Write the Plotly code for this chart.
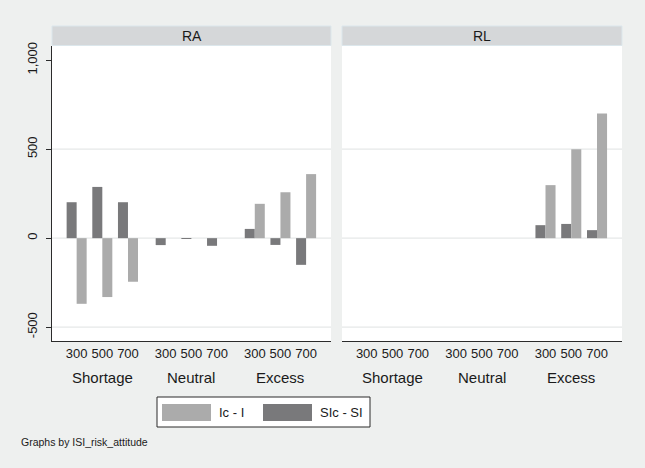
import plotly.graph_objects as go

# ---------------- data ----------------
panels = ["RA", "RL"]
conditions = ["Shortage", "Neutral", "Excess"]
quantities = ["300", "500", "700"]
series_names = ["Ic - I", "SIc - SI"]

# values ordered: Shortage 300/500/700, Neutral 300/500/700, Excess 300/500/700
ra_ic_i = [-369, -331, -245, 0, 0, 0, 193, 258, 360]
ra_sic_si = [202, 288, 202, -39, -4, -43, 52, -38, -150]
rl_ic_i = [None, None, None, None, None, None, 298, 500, 700]
rl_sic_si = [None, None, None, None, None, None, 73, 80, 45]

y_ticks = [-500, 0, 500, 1000]
y_ticklabels = ["-500", "0", "500", "1,000"]

# ---------------- style ----------------
W, H = 645, 468
BG = "#EEF0EF"
STRIP = "#D5D7D9"
STRIP_LINE = "#DCE7EC"
LIGHT = "#ABABAB"
DARK = "#79797B"
GRID = "#E6E8E8"
AXIS = "#2b2b2b"
TXT = "#1a1a1a"
FONT = "Arial, Liberation Sans, sans-serif"
GROUP_STEP = 3.47


def px(x):
    return x / W


def py(y):
    return 1 - y / H


xpos = [g * GROUP_STEP + s for g in range(len(conditions)) for s in range(len(quantities))]
group_centers = [g * GROUP_STEP + 1 for g in range(len(conditions))]
tick_text = quantities * len(conditions)

panel_data = {
    "RA": (ra_ic_i, ra_sic_si),
    "RL": (rl_ic_i, rl_sic_si),
}

fig = go.Figure()
for i, p in enumerate(panels):
    suf = "" if i == 0 else str(i + 1)
    ic, sic = panel_data[p]
    fig.add_trace(go.Bar(x=xpos, y=sic, name=series_names[1], marker=dict(color=DARK, line=dict(width=0)),
                         xaxis="x" + suf, yaxis="y" + suf, showlegend=False))
    fig.add_trace(go.Bar(x=xpos, y=ic, name=series_names[0], marker=dict(color=LIGHT, line=dict(width=0)),
                         xaxis="x" + suf, yaxis="y" + suf, showlegend=False))

x_domains = [[px(52), px(331)], [px(342), px(622)]]
y_domain = [py(341), py(46)]
x_range = [-0.96, 2 * GROUP_STEP + 2 + 0.97]
y_range = [-578, 1080]

xaxis_common = dict(range=x_range, tickvals=xpos, ticktext=tick_text, ticks="", showgrid=False,
                    zeroline=False, showline=True, linecolor=AXIS, linewidth=1,
                    tickfont=dict(size=13, color=TXT, family=FONT), automargin=False, fixedrange=True)

layout = dict(
    width=W, height=H,
    margin=dict(l=0, r=0, t=0, b=0),
    paper_bgcolor=BG, plot_bgcolor="white",
    barmode="group", bargap=0.22, bargroupgap=0,
    font=dict(family=FONT, color=TXT),
    xaxis=dict(domain=x_domains[0], anchor="y", **xaxis_common),
    xaxis2=dict(domain=x_domains[1], anchor="y2", **xaxis_common),
    yaxis=dict(domain=y_domain, anchor="x", range=y_range, tickvals=y_ticks, ticktext=y_ticklabels,
               tickangle=-90, ticks="outside", ticklen=5, tickcolor=AXIS, showline=True, linecolor=AXIS,
               linewidth=1, showgrid=False, zeroline=False, tickfont=dict(size=13, color=TXT, family=FONT),
               automargin=False, ticklabelstandoff=4),
    yaxis2=dict(domain=y_domain, anchor="x2", range=y_range, showticklabels=False, ticks="",
                showline=False, showgrid=False, zeroline=False, automargin=False),
)

shapes = []
annotations = []
for i, p in enumerate(panels):
    suf = "" if i == 0 else str(i + 1)
    # gridlines
    for v in [-500, 0, 500]:
        shapes.append(dict(type="line", xref="x" + suf + " domain", yref="y" + suf, x0=0, x1=1, y0=v, y1=v,
                           line=dict(color=GRID, width=1.2), layer="below"))
    # strip header
    shapes.append(dict(type="rect", xref="paper", yref="paper", x0=x_domains[i][0], x1=x_domains[i][1],
                       y0=py(45.5), y1=py(26), fillcolor=STRIP, line=dict(color=STRIP_LINE, width=1)))
    annotations.append(dict(text=p, xref="paper", yref="paper", x=(x_domains[i][0] + x_domains[i][1]) / 2,
                            y=py(36), xanchor="center", yanchor="middle", showarrow=False,
                            font=dict(size=14, color=TXT)))
    # group labels
    for c, gc in zip(conditions, group_centers):
        annotations.append(dict(text=c, xref="x" + suf, yref="paper", x=gc, y=py(377), xanchor="center",
                                yanchor="middle", showarrow=False, font=dict(size=15, color=TXT)))

# legend (drawn manually to mimic the wide swatches)
shapes.append(dict(type="rect", xref="paper", yref="paper", x0=px(157), x1=px(370), y0=py(427), y1=py(397),
                   fillcolor="white", line=dict(color=AXIS, width=1)))
legend_items = [(series_names[0], LIGHT, 162), (series_names[1], DARK, 263)]
for name, col, x0 in legend_items:
    shapes.append(dict(type="rect", xref="paper", yref="paper", x0=px(x0), x1=px(x0 + 49), y0=py(421), y1=py(404),
                       fillcolor=col, line=dict(width=0)))
    annotations.append(dict(text=name, xref="paper", yref="paper", x=px(x0 + 55), y=py(412.5), xanchor="left",
                            yanchor="middle", showarrow=False, font=dict(size=13, color=TXT)))

annotations.append(dict(text="Graphs by ISI_risk_attitude", xref="paper", yref="paper", x=px(19), y=py(442),
                        xanchor="left", yanchor="middle", showarrow=False, font=dict(size=10.5, color=TXT)))

layout["shapes"] = shapes
layout["annotations"] = annotations
fig.update_layout(**layout)
fig.write_html("out.html", config={"displayModeBar": False},
               post_script="document.body.style.margin='0';document.body.style.overflow='hidden';")
